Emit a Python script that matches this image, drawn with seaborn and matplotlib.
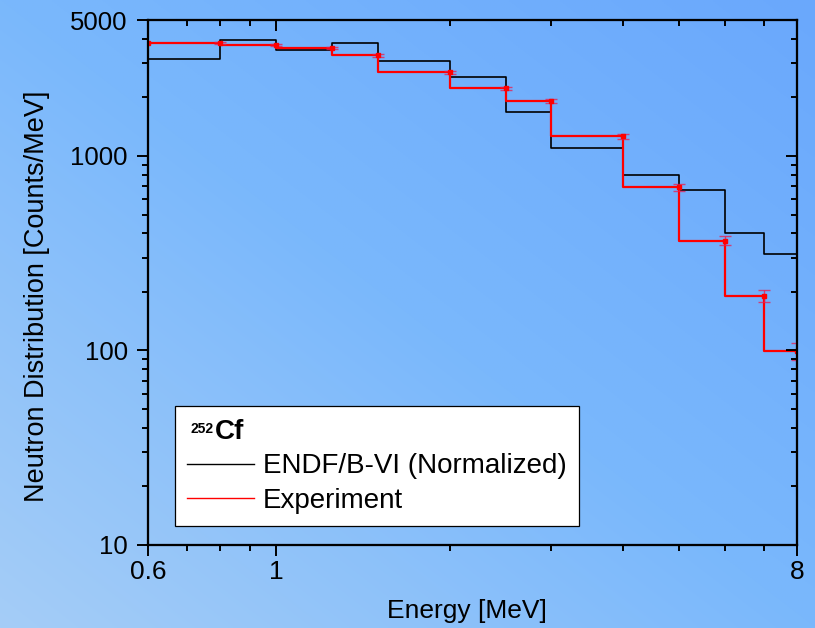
import numpy as np
import pandas as pd
import matplotlib
matplotlib.use("Agg")
import matplotlib.pyplot as plt
import seaborn as sns
from matplotlib.ticker import FixedLocator, FixedFormatter, NullFormatter
from matplotlib.lines import Line2D

# Energy bin edges [MeV] and per-bin neutron distributions [counts/MeV]
bin_edges = [0.6, 0.8, 1.0, 1.25, 1.5, 2.0, 2.5, 3.0, 4.0, 5.0, 6.0, 7.0, 8.0]
endf_counts = [3150, 3945, 3493, 3822, 3088, 2537, 1682, 1099, 795, 666, 400, 312]
exp_counts = [3808, 3719, 3589, 3292, 2692, 2227, 1910, 1262, 690, 366, 191, 99]
exp_errors = [45, 53, 51, 59, 48, 48, 45, 41, 27, 19.5, 13.5, 10]

series_labels = ["ENDF/B-VI (Normalized)", "Experiment"]
x_major = [0.6, 1, 8]
x_major_labels = ["0.6", "1", "8"]
x_minor = [0.7, 0.8, 0.9, 2, 3, 4, 5, 6, 7]
y_major = [10, 100, 1000, 5000]
y_major_labels = ["10", "100", "1000", "5000"]
y_minor = [20, 30, 40, 50, 60, 70, 80, 90,
           200, 300, 400, 500, 600, 700, 800, 900,
           2000, 3000, 4000]

plt.rcParams["font.family"] = ["Liberation Sans", "DejaVu Sans"]

W, H = 815, 628
fig = plt.figure(figsize=(W / 100, H / 100), dpi=100)

# Diagonal blue backdrop, lighter towards the lower left
bg = fig.add_axes([0, 0, 1, 1], zorder=0)
u = np.linspace(0, 1, 400)[None, :]
v = np.linspace(0, 1, 300)[:, None]
t = (u + (1 - v)) / 2.0
stops = [0.0, 0.5, 1.0]
cols = np.array([[165, 205, 247], [122, 184, 252], [106, 168, 252]]) / 255.0
img = np.dstack([np.interp(t, stops, cols[:, k]) for k in range(3)])
bg.imshow(img, aspect="auto", extent=[0, 1, 0, 1], origin="upper")
bg.axis("off")

# Main plot area
L, R, T, B = 148, 797, 20, 545
ax = fig.add_axes([L / W, (H - B) / H, (R - L) / W, (B - T) / H], zorder=1)
ax.set_facecolor("none")
ax.set_xscale("log")
ax.set_yscale("log")

def step_frame(counts, name):
    return pd.DataFrame({
        "energy": bin_edges,
        "counts": list(counts) + [counts[-1]],
        "series": name,
    })

endf_df = step_frame(endf_counts, series_labels[0])
exp_df = step_frame(exp_counts, series_labels[1])

sns.lineplot(data=endf_df, x="energy", y="counts", color="black", lw=1.2,
             drawstyle="steps-post", estimator=None, sort=False, ax=ax,
             legend=False, zorder=3)
sns.lineplot(data=exp_df, x="energy", y="counts", color="#ff0000", lw=1.6,
             drawstyle="steps-post", estimator=None, sort=False, ax=ax,
             legend=False, zorder=4)

# Experimental points sit at the upper edge of each bin
ax.errorbar(bin_edges[1:], exp_counts, yerr=exp_errors, fmt="s", ms=2.6,
            color="#ff0000", ecolor=(0.92, 0.1, 0.3, 0.75), elinewidth=1.0,
            capsize=4, capthick=1.0, zorder=5)
ax.plot(bin_edges[0], exp_counts[0], "s", ms=2.6, color="#ff0000", zorder=5)

ax.set_xlim(0.6, 8)
ax.set_ylim(10, 5000)

ax.xaxis.set_major_locator(FixedLocator(x_major))
ax.xaxis.set_major_formatter(FixedFormatter(x_major_labels))
ax.xaxis.set_minor_locator(FixedLocator(x_minor))
ax.xaxis.set_minor_formatter(NullFormatter())
ax.yaxis.set_major_locator(FixedLocator(y_major))
ax.yaxis.set_major_formatter(FixedFormatter(y_major_labels))
ax.yaxis.set_minor_locator(FixedLocator(y_minor))
ax.yaxis.set_minor_formatter(NullFormatter())

ax.tick_params(which="both", direction="out", width=1.4, colors="black")
ax.tick_params(which="major", length=8)
ax.tick_params(which="minor", length=4.5)
ax.tick_params(axis="x", which="major", labelsize=19, pad=3)
ax.tick_params(axis="y", which="major", labelsize=18.5, pad=6.5)
for sp in ax.spines.values():
    sp.set_linewidth(1.5)
    sp.set_color("black")

# Mirrored inward ticks on top and right
top = ax.twiny()
top.set_xscale("log")
top.set_xlim(ax.get_xlim())
top.xaxis.set_major_locator(FixedLocator(x_major))
top.xaxis.set_minor_locator(FixedLocator(x_minor))
top.xaxis.set_major_formatter(NullFormatter())
top.xaxis.set_minor_formatter(NullFormatter())
top.tick_params(axis="x", which="both", direction="in", width=1.4)
top.tick_params(axis="x", which="major", length=8)
top.tick_params(axis="x", which="minor", length=4.5)

right = ax.twinx()
right.set_yscale("log")
right.set_ylim(ax.get_ylim())
right.yaxis.set_major_locator(FixedLocator(y_major))
right.yaxis.set_minor_locator(FixedLocator(y_minor))
right.yaxis.set_major_formatter(NullFormatter())
right.yaxis.set_minor_formatter(NullFormatter())
right.tick_params(axis="y", which="both", direction="in", width=1.4)
right.tick_params(axis="y", which="major", length=8)
right.tick_params(axis="y", which="minor", length=4.5)
for a in (top, right):
    for sp in a.spines.values():
        sp.set_linewidth(1.5)

ax.set_xlabel("Energy [MeV]", fontsize=19)
ax.xaxis.set_label_coords(0.4915, -0.102)
ax.set_ylabel("Neutron Distribution [Counts/MeV]", fontsize=19.5)
ax.yaxis.set_label_coords(-0.151, 0.474)

handles = [Line2D([], [], color="black", lw=1.0),
           Line2D([], [], color="#ff0000", lw=1.0)]
leg = right.legend(handles, series_labels, title="Cf",
                   loc="lower left", bbox_to_anchor=(0.0416, 0.036),
                   bbox_transform=ax.transAxes, borderaxespad=0,
                   frameon=True, fancybox=False, shadow=False,
                   edgecolor="black", facecolor="white", framealpha=1,
                   fontsize=20, title_fontsize=20, alignment="left",
                   handlelength=2.41, handletextpad=0.3,
                   labelspacing=0.3, borderpad=0.45)
leg.get_frame().set_linewidth(0.9)
title = leg.get_title()
title.set_fontweight("bold")
# leave room in front of the element symbol for its mass number
title.set_position((27, 0))
leg.set_zorder(10)

# Mass number as a small superscript in front of the element symbol
fig.canvas.draw()
tb = title.get_window_extent(fig.canvas.get_renderer())
fig.text((tb.x0 - 1) / W, (tb.y1 - 3) / H, "252", fontsize=10,
         fontweight="bold", ha="right", va="top", zorder=20)

fig.savefig("out.png", dpi=100)
